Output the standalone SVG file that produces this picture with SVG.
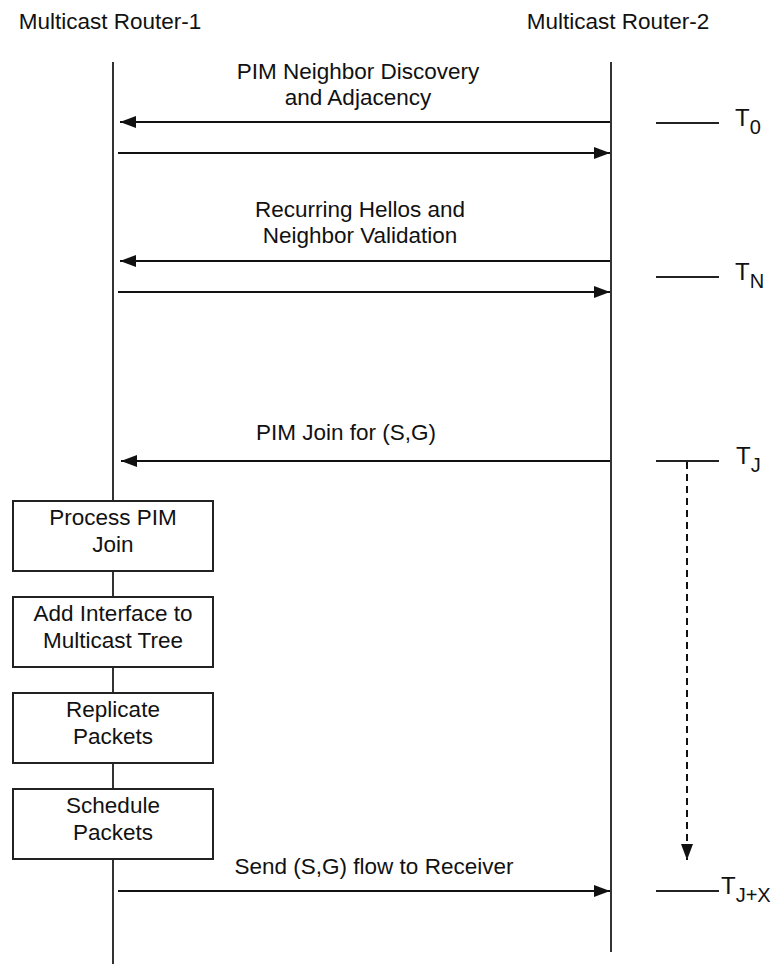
<svg xmlns="http://www.w3.org/2000/svg" width="778" height="964" viewBox="0 0 778 964">
<style>
text{font-family:"Liberation Sans",Arial,sans-serif;font-size:22.5px;fill:#111}
.c{text-anchor:middle}
.life{stroke:#333;stroke-width:2;fill:none}
.msg{stroke:#111;stroke-width:2;fill:none}
.tick{stroke:#222;stroke-width:2}
.box{fill:#fff;stroke:#222;stroke-width:2}
.t{font-size:24px}
.sub{font-size:20px}
</style>
<defs>
<marker id="ah" viewBox="0 0 16 12" refX="16" refY="6" markerWidth="16" markerHeight="12" markerUnits="userSpaceOnUse" orient="auto">
<path d="M0,0 L16,6 L0,12 Z" fill="#111"/>
</marker>
</defs>
<rect width="778" height="964" fill="#fff"/>
<g id="router1">
<text x="110" y="29" class="c">Multicast Router-1</text>
<line class="life" x1="113" y1="62" x2="113" y2="964"/>
</g>
<g id="router2">
<text x="618" y="29" class="c">Multicast Router-2</text>
<line class="life" x1="611" y1="62" x2="611" y2="952"/>
</g>
<g id="connectors">
<line class="msg" x1="610" y1="122" x2="120" y2="122" marker-end="url(#ah)"/>
<line class="msg" x1="118" y1="153" x2="610" y2="153" marker-end="url(#ah)"/>
<line class="msg" x1="610" y1="261" x2="120" y2="261" marker-end="url(#ah)"/>
<line class="msg" x1="118" y1="292" x2="610" y2="292" marker-end="url(#ah)"/>
<line class="msg" x1="610" y1="461" x2="121" y2="461" marker-end="url(#ah)"/>
<line class="msg" x1="118" y1="891" x2="610" y2="891" marker-end="url(#ah)"/>
<line x1="687" y1="462" x2="687" y2="860" stroke="#111" stroke-width="2" stroke-dasharray="7,5" marker-end="url(#ah)"/>
</g>
<g id="labels">
<text x="358" y="79" class="c">PIM Neighbor Discovery</text>
<text x="358" y="105" class="c">and Adjacency</text>
<text x="360" y="217" class="c">Recurring Hellos and</text>
<text x="360" y="243" class="c">Neighbor Validation</text>
<text x="346" y="440" class="c">PIM Join for (S,G)</text>
<text x="374" y="874" class="c">Send (S,G) flow to Receiver</text>
</g>
<g id="time-t0">
<line class="tick" x1="656" y1="123" x2="719" y2="123"/>
<text x="735" y="126" class="t">T<tspan class="sub" dy="8">0</tspan></text>
</g>
<g id="time-tn">
<line class="tick" x1="656" y1="277" x2="719" y2="277"/>
<text x="735" y="280" class="t">T<tspan class="sub" dy="8">N</tspan></text>
</g>
<g id="time-tj">
<line class="tick" x1="656" y1="461" x2="719" y2="461"/>
<text x="736" y="464" class="t">T<tspan class="sub" dy="8">J</tspan></text>
</g>
<g id="time-tjx">
<line class="tick" x1="656" y1="891" x2="719" y2="891"/>
<text x="721" y="894" class="t">T<tspan class="sub" dy="8">J+X</tspan></text>
</g>
<g id="process-join">
<rect class="box" x="13" y="501" width="200" height="70"/>
<text x="113" y="525" class="c">Process PIM</text>
<text x="113" y="552" class="c">Join</text>
</g>
<g id="add-interface">
<rect class="box" x="13" y="597" width="200" height="70"/>
<text x="113" y="621" class="c">Add Interface to</text>
<text x="113" y="648" class="c">Multicast Tree</text>
</g>
<g id="replicate">
<rect class="box" x="13" y="693" width="200" height="70"/>
<text x="113" y="717" class="c">Replicate</text>
<text x="113" y="744" class="c">Packets</text>
</g>
<g id="schedule">
<rect class="box" x="13" y="789" width="200" height="70"/>
<text x="113" y="813" class="c">Schedule</text>
<text x="113" y="840" class="c">Packets</text>
</g>
</svg>
